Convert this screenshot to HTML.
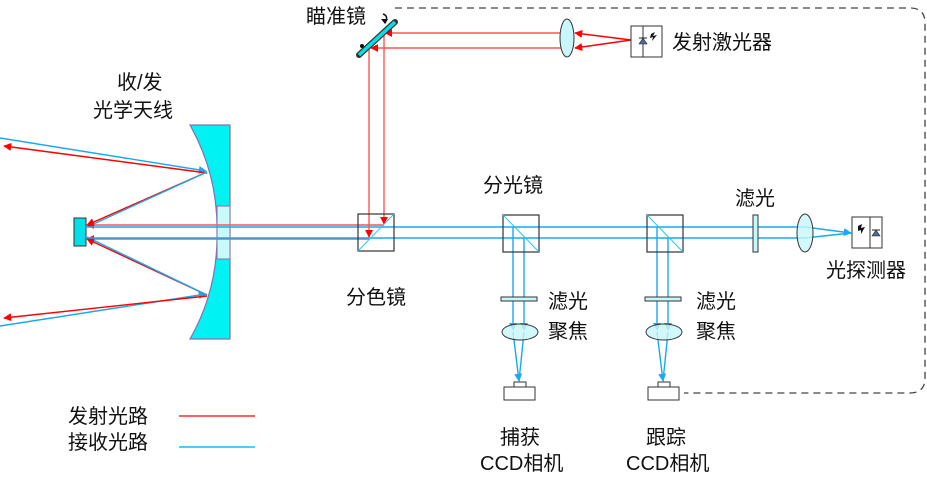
<!DOCTYPE html>
<html><head><meta charset="utf-8"><style>
html,body{margin:0;padding:0;background:#fff;}
svg{display:block;}
text{font-family:"Liberation Sans","Noto Sans CJK SC",sans-serif;font-size:20px;fill:#111;}
</style></head><body>
<svg width="927" height="487" viewBox="0 0 927 487" xmlns="http://www.w3.org/2000/svg">
<defs>
<marker id="ar" viewBox="0 0 10 10" refX="9" refY="5" markerWidth="8" markerHeight="8" markerUnits="userSpaceOnUse" orient="auto"><path d="M0,0 L10,5 L0,10 z" fill="#f00"/></marker>
<marker id="ab" viewBox="0 0 10 10" refX="9" refY="5" markerWidth="8" markerHeight="8" markerUnits="userSpaceOnUse" orient="auto"><path d="M0,0 L10,5 L0,10 z" fill="#1ba8ee"/></marker>
</defs>
<path d="M395,8 L910,8 Q925,8 925,23 L925,378 Q925,393 910,393 L684,393" fill="none" stroke="#444" stroke-width="1.3" stroke-dasharray="7,5"/>
<path d="M190,125 L230,125 L230,339 L190,339 Q218,290 217,232 Q218,175 190,125 z" fill="#00f2f2" stroke="#8a6fb0" stroke-width="1.2"/>
<rect x="217" y="206" width="13" height="53" fill="#c8fafa" stroke="#8a6fb0" stroke-width="1"/>
<rect x="74" y="218" width="12" height="28" fill="#00e0e8" stroke="#333" stroke-width="1"/>
<g fill="none" stroke-width="1.4">
<line x1="0" y1="138" x2="206" y2="171" stroke="#1ba8ee" marker-end="url(#ab)"/>
<line x1="207" y1="173" x2="4" y2="146" stroke="#f00" marker-end="url(#ar)"/>
<line x1="0" y1="326" x2="206" y2="294" stroke="#1ba8ee" marker-end="url(#ab)"/>
<line x1="207" y1="296" x2="4" y2="318" stroke="#f00" marker-end="url(#ar)"/>
<line x1="207" y1="172" x2="87" y2="225" stroke="#f00" marker-end="url(#ar)"/>
<line x1="207" y1="172" x2="87" y2="227" stroke="#1ba8ee"/>
<line x1="207" y1="295" x2="87" y2="239" stroke="#f00" marker-end="url(#ar)"/>
<line x1="207" y1="295" x2="87" y2="237" stroke="#1ba8ee"/>
<line x1="384" y1="225" x2="87" y2="225" stroke="#f55" marker-end="url(#ar)"/>
<line x1="369" y1="239" x2="87" y2="239" stroke="#f55" marker-end="url(#ar)"/>
<line x1="86" y1="227" x2="805" y2="227" stroke="#1ba8ee"/>
<line x1="86" y1="238" x2="805" y2="238" stroke="#1ba8ee"/>
<line x1="805" y1="227" x2="851" y2="233" stroke="#1ba8ee" marker-end="url(#ab)"/>
<line x1="805" y1="238" x2="851" y2="233" stroke="#1ba8ee"/>
<line x1="384" y1="33" x2="384" y2="224" stroke="#f55" marker-end="url(#ar)"/>
<line x1="369" y1="48" x2="369" y2="237" stroke="#f55" marker-end="url(#ar)"/>
<line x1="631" y1="40" x2="575" y2="33" stroke="#f00" marker-end="url(#ar)"/>
<line x1="631" y1="40" x2="575" y2="48" stroke="#f00" marker-end="url(#ar)"/>
<line x1="567" y1="33" x2="385" y2="33" stroke="#f55" marker-end="url(#ar)"/>
<line x1="567" y1="48" x2="371" y2="48" stroke="#f55" marker-end="url(#ar)"/>
<line x1="513" y1="227" x2="513" y2="330" stroke="#1ba8ee" marker-end="url(#ab)"/>
<line x1="524" y1="238" x2="524" y2="330" stroke="#1ba8ee" marker-end="url(#ab)"/>
<line x1="513" y1="332" x2="519" y2="381" stroke="#1ba8ee" marker-end="url(#ab)"/>
<line x1="524" y1="332" x2="519" y2="381" stroke="#1ba8ee"/>
<line x1="657" y1="227" x2="657" y2="330" stroke="#1ba8ee" marker-end="url(#ab)"/>
<line x1="668" y1="238" x2="668" y2="330" stroke="#1ba8ee" marker-end="url(#ab)"/>
<line x1="657" y1="332" x2="663" y2="381" stroke="#1ba8ee" marker-end="url(#ab)"/>
<line x1="668" y1="332" x2="663" y2="381" stroke="#1ba8ee"/>
</g>
<line x1="359" y1="55" x2="395" y2="22" stroke="#333" stroke-width="6" stroke-linecap="round"/>
<line x1="359" y1="55" x2="395" y2="22" stroke="#00e0e8" stroke-width="3.5"/>
<path d="M383,14 q6,2 2,9" fill="none" stroke="#111" stroke-width="1.5"/><path d="M381,19 l4,5 l3,-5z" fill="#111"/>
<circle cx="362" cy="46" r="2" fill="#111"/>
<ellipse cx="567" cy="38" rx="7" ry="19" fill="#c8f6fa" stroke="#333"/>
<rect x="631" y="26" width="31" height="31" fill="#fff" stroke="#333"/>
<line x1="643" y1="26" x2="643" y2="57" stroke="#333"/>
<path d="M639,44 l4,-6 l4,6z" fill="#4a6a9a" stroke="#222" stroke-width=".6"/><line x1="639" y1="38" x2="647" y2="38" stroke="#222"/>
<path d="M651,34 l4,-2 l-2,4 l4,-1 l-5,6 l1,-4 l-3,1z" fill="#111"/>
<g fill="none" stroke="#333" stroke-width="1.2">
<rect x="358" y="214" width="36" height="37"/>
<rect x="503" y="215" width="36" height="37"/>
<rect x="647" y="215" width="36" height="37"/>
</g>
<line x1="358" y1="251" x2="394" y2="214" stroke="#28c8f0"/>
<line x1="503" y1="215" x2="539" y2="252" stroke="#28c8f0"/>
<line x1="647" y1="215" x2="683" y2="252" stroke="#28c8f0"/>
<rect x="753" y="215" width="5" height="37" fill="#c8f6fa" stroke="#333"/>
<ellipse cx="805" cy="233" rx="8" ry="19" fill="#c8f6fa" stroke="#333" fill-opacity=".8"/>
<rect x="852" y="217" width="30" height="31" fill="#fff" stroke="#333"/>
<line x1="870" y1="217" x2="870" y2="248" stroke="#333"/>
<path d="M872,236 l4,-6 l4,6z" fill="#4a6a9a" stroke="#222" stroke-width=".6"/><line x1="872" y1="230" x2="880" y2="230" stroke="#222"/>
<path d="M858,226 l4,-2 l-1,4 l4,-1 l-4,7 l0,-4 l-3,1z" fill="#111"/>
<rect x="501" y="297" width="36" height="4" fill="#c8f6fa" stroke="#333"/>
<rect x="645" y="297" width="36" height="4" fill="#c8f6fa" stroke="#333"/>
<ellipse cx="520" cy="332" rx="18" ry="8" fill="#c8f6fa" stroke="#333" fill-opacity=".8"/>
<ellipse cx="664" cy="332" rx="18" ry="8" fill="#c8f6fa" stroke="#333" fill-opacity=".8"/>
<g fill="#fff" stroke="#333">
<rect x="514" y="382" width="12" height="5"/><rect x="504" y="387" width="31" height="13"/>
<rect x="658" y="382" width="12" height="5"/><rect x="648" y="387" width="31" height="13"/>
</g>
<line x1="179" y1="416" x2="255" y2="416" stroke="#f00" stroke-width="1.3"/>
<line x1="179" y1="447" x2="255" y2="447" stroke="#1bb8f5" stroke-width="1.5"/>
<text x="306" y="23">瞄准镜</text>
<text x="672" y="49">发射激光器</text>
<text x="117" y="89">收/发</text>
<text x="93" y="117">光学天线</text>
<text x="483" y="192">分光镜</text>
<text x="735" y="205">滤光</text>
<text x="826" y="277">光探测器</text>
<text x="346" y="304">分色镜</text>
<text x="548" y="308">滤光</text>
<text x="548" y="338">聚焦</text>
<text x="696" y="308">滤光</text>
<text x="696" y="338">聚焦</text>
<text x="68" y="423">发射光路</text>
<text x="68" y="449">接收光路</text>
<text x="500" y="444">捕获</text>
<text x="480" y="470">CCD相机</text>
<text x="646" y="444">跟踪</text>
<text x="626" y="470">CCD相机</text>
</svg>
</body></html>
